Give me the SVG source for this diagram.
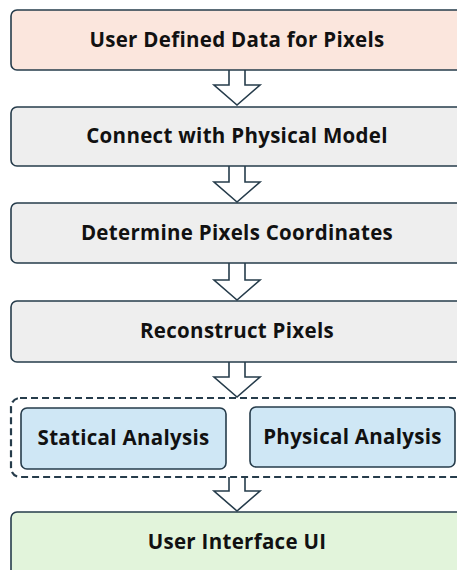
<svg xmlns="http://www.w3.org/2000/svg" width="457" height="570" viewBox="0 0 457 570">
<style>
.box{stroke:#263c4b;stroke-width:1.6}
.lbl{font-family:"Open Sans","Liberation Sans",Arial,sans-serif;font-weight:bold;font-size:20.5px;fill:#111;text-anchor:middle;letter-spacing:0.3px}
.arr{fill:#fff;stroke:#263c4b;stroke-width:1.6;stroke-linejoin:miter}
</style>
<rect width="457" height="570" fill="#fff"/>
<g id="connectors">
<path class="arr" d="M229,70 V85 H214 L237,105 L260,85 H245 V70"/>
<path class="arr" d="M229,166 V182 H214 L237,202 L260,182 H245 V166"/>
<path class="arr" d="M229,263 V280 H214 L237,300 L260,280 H245 V263"/>
<path class="arr" d="M229,362 V377 H214 L237,397 L260,377 H245 V362"/>
<path class="arr" d="M229,477 V491 H214 L237,511 L260,491 H245 V477"/>
</g>
<g id="n1"><rect class="box" x="11" y="10" width="456" height="60" rx="6" fill="#fbe6dd"/><text class="lbl" x="237" y="47">User Defined Data for Pixels</text></g>
<g id="n2"><rect class="box" x="11" y="107" width="456" height="59" rx="6" fill="#eeeeee"/><text class="lbl" x="237" y="143">Connect with Physical Model</text></g>
<g id="n3"><rect class="box" x="11" y="203" width="456" height="60" rx="6" fill="#eeeeee"/><text class="lbl" x="237" y="240">Determine Pixels Coordinates</text></g>
<g id="n4"><rect class="box" x="11" y="301" width="456" height="61" rx="6" fill="#eeeeee"/><text class="lbl" x="237" y="338">Reconstruct Pixels</text></g>
<g id="group"><rect x="11" y="398" width="456" height="79" rx="9" fill="#fff" stroke="#263c4b" stroke-width="2.2" stroke-dasharray="7,4"/></g>
<g id="n5"><rect class="box" x="21" y="408" width="205" height="61" rx="6" fill="#cfe7f5"/><text class="lbl" x="123.5" y="445">Statical Analysis</text></g>
<g id="n6"><rect class="box" x="250" y="407" width="205" height="60" rx="6" fill="#cfe7f5"/><text class="lbl" x="352.5" y="444">Physical Analysis</text></g>
<g id="n7"><rect class="box" x="11" y="512" width="456" height="64" rx="6" fill="#e2f4db"/><text class="lbl" x="237" y="549">User Interface UI</text></g>
</svg>
